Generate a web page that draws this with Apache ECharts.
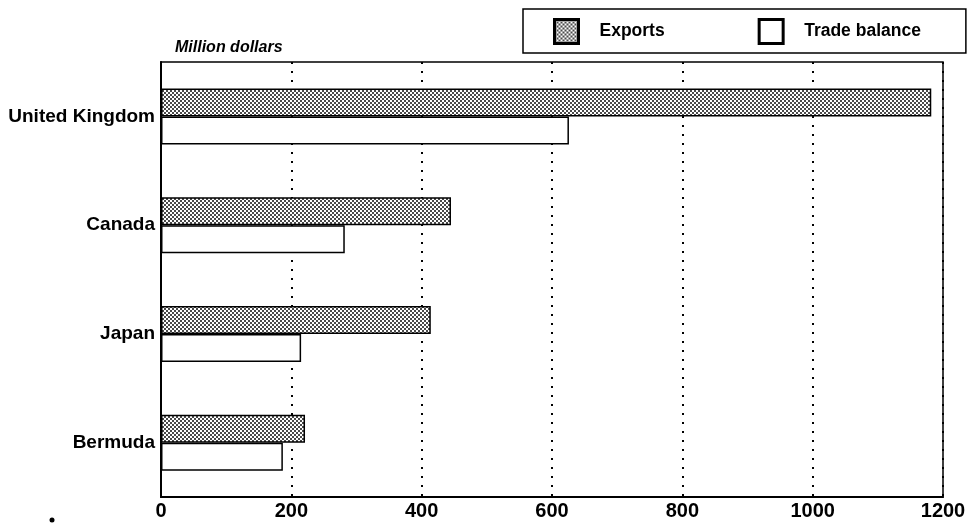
<!DOCTYPE html>
<html>
<head>
<meta charset="utf-8">
<script src="https://cdn.jsdelivr.net/npm/echarts@6/dist/echarts.min.js"></script>
<style>
  html, body { margin: 0; padding: 0; background: #fff; }
  #chart { width: 970px; height: 527px; }
</style>
</head>
<body>
<div id="chart"></div>
<script>
var categories = ["United Kingdom", "Canada", "Japan", "Bermuda"];
var exportsData = [1182, 445, 414, 221];
var tradeBalance = [626, 282, 215, 187];
var xTicks = [0, 200, 400, 600, 800, 1000, 1200];

// stippled fill like the printed original
var dots = document.createElement("canvas");
dots.width = 4;
dots.height = 4;
var ctx = dots.getContext("2d");
ctx.fillStyle = "#ffffff";
ctx.fillRect(0, 0, 4, 4);
ctx.fillStyle = "#4a4a4a";
ctx.fillRect(0, 0, 2, 2);
ctx.fillRect(2, 2, 2, 2);
var stipple = { image: dots, repeat: "repeat" };

var font = "'Liberation Sans', Arial, sans-serif";
var chart = echarts.init(document.getElementById("chart"));

var option = {
  animation: false,
  backgroundColor: "#fff",
  textStyle: { fontFamily: font, color: "#000" },
  grid: {
    left: 161, right: 27, top: 62, bottom: 30,
    show: true, borderColor: "#000", borderWidth: 1.5
  },
  legend: {
    left: 523, top: 9,
    orient: "horizontal",
    padding: [9, 45, 8, 30],
    borderColor: "#000", borderWidth: 1.5,
    itemWidth: 24, itemHeight: 24,
    itemGap: 93,
    icon: "rect",
    itemStyle: { borderColor: "#000", borderWidth: 3 },
    textStyle: { fontFamily: font, fontSize: 17.5, fontWeight: "bold", color: "#000", padding: [2, 0, 0, 16] },
    data: ["Exports", "Trade balance"]
  },
  xAxis: {
    type: "value",
    min: 0, max: 1200, interval: 200,
    axisLine: { show: true, lineStyle: { color: "#000", width: 2 } },
    axisTick: { show: false },
    axisLabel: {
      margin: 4, fontFamily: font, fontSize: 20, fontWeight: "bold", color: "#000",
      formatter: function (v) { return xTicks.indexOf(v) >= 0 ? String(v) : ""; }
    },
    splitLine: { show: true, lineStyle: { color: "#000", width: 2, type: [2, 7] } }
  },
  yAxis: {
    type: "category",
    inverse: true,
    data: categories,
    axisLine: { show: true, lineStyle: { color: "#000", width: 2 } },
    axisTick: { show: false },
    axisLabel: { margin: 6, fontFamily: font, fontSize: 19, fontWeight: "bold", color: "#000" }
  },
  series: [
    {
      name: "Exports",
      type: "bar",
      data: exportsData,
      barWidth: 28,
      barGap: "0%",
      itemStyle: { color: stipple, borderColor: "#000", borderWidth: 1.5 }
    },
    {
      name: "Trade balance",
      type: "bar",
      data: tradeBalance,
      barWidth: 28,
      barGap: "0%",
      itemStyle: { color: "#fff", borderColor: "#000", borderWidth: 1.5 }
    }
  ],
  graphic: [
    {
      type: "text", left: 175, top: 40,
      style: { text: "Million dollars", font: "italic bold 16px " + font, fill: "#000" }
    },
    {
      type: "circle", shape: { cx: 52, cy: 520, r: 2.5 },
      style: { fill: "#000" }
    }
  ]
};

chart.setOption(option);
</script>
</body>
</html>
